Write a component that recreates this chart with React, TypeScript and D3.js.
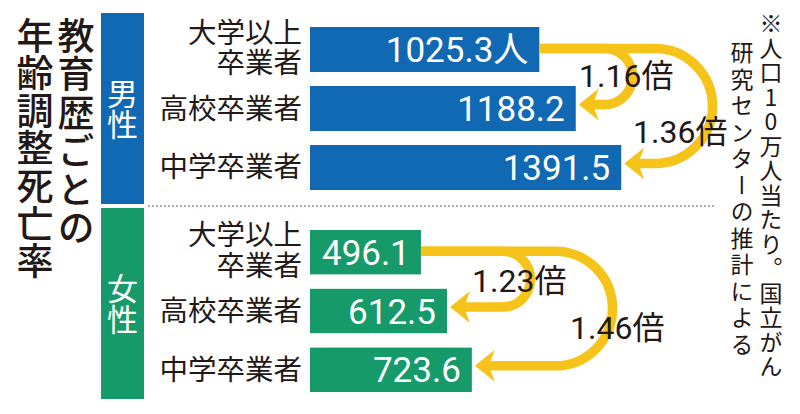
import React from "react";
import * as d3 from "d3";

// data
const categories = [["大学以上", "卒業者"], ["高校卒業者"], ["中学卒業者"]];
const maleValues = [1025.3, 1188.2, 1391.5];
const femaleValues = [496.1, 612.5, 723.6];
const maleLabels = ["1025.3人", "1188.2", "1391.5"];
const femaleLabels = ["496.1", "612.5", "723.6"];
const groupNames = ["男性", "女性"];
const maleRatios = ["1.16倍", "1.36倍"];
const femaleRatios = ["1.23倍", "1.46倍"];
const titleLines = ["教育歴ごとの", "年齢調整死亡率"];
const noteLines = ["※人口10万人当たり。国立がん", "研究センターの推計による"];

const W = 800;
const H = 414;
const BLUE = "#1269b3";
const GREEN = "#179a6a";
const YELLOW = "#f6c31a";
const INK = "#231815";
const JP = "'Noto Sans CJK JP', sans-serif";
const NUM = "Roboto, 'Noto Sans CJK JP', sans-serif";

const x = d3.scaleLinear().domain([0, 1500]).range([310, 645.5]);

const groups = [
  {
    name: groupNames[0],
    color: BLUE,
    values: maleValues,
    labels: maleLabels,
    ratios: maleRatios,
    band: d3.scaleBand<number>().domain([0, 1, 2]).range([27, 190]).paddingInner(0.237),
    badge: [13, 204],
    // arrow layout: right-most reach of the arc, label position
    arrows: [
      { to: 1, reach: 632.5, lx: 579, ly: 75 },
      { to: 2, reach: 712.5, lx: 633, ly: 131 },
    ],
  },
  {
    name: groupNames[1],
    color: GREEN,
    values: femaleValues,
    labels: femaleLabels,
    ratios: femaleRatios,
    band: d3.scaleBand<number>().domain([0, 1, 2]).range([230, 392]).paddingInner(0.245),
    badge: [208, 399],
    arrows: [
      { to: 1, reach: 530.5, lx: 472, ly: 280 },
      { to: 2, reach: 612.5, lx: 570, ly: 327.5 },
    ],
  },
];

function arrowShaft(x0: number, y0: number, x1: number, y1: number, reach: number) {
  const r = (y1 - y0) / 2;
  const cx = reach - r;
  const p = d3.path();
  p.moveTo(x0, y0);
  p.lineTo(cx, y0);
  p.arc(cx, y0 + r, r, -Math.PI / 2, Math.PI / 2);
  p.lineTo(x1 + 12, y1);
  return p.toString();
}

function arrowHead(xt: number, y: number) {
  const p = d3.path();
  p.moveTo(xt, y);
  p.lineTo(xt + 20, y - 16);
  p.lineTo(xt + 14, y);
  p.lineTo(xt + 20, y + 16);
  p.closePath();
  return p.toString();
}

export default function App() {
  return (
    <svg
      width={W}
      height={H}
      viewBox={`0 0 ${W} ${H}`}
      style={{ position: "absolute", left: 0, top: 0, background: "#fff" }}
    >
      {/* title, vertical */}
      {titleLines.map((t, i) => (
        <text
          key={t}
          x={i === 0 ? 76 : 35}
          y={i === 0 ? 17 : 17}
          writingMode="vertical-rl"
          style={{ textOrientation: "upright", letterSpacing: i === 0 ? "1.5px" : "0.6px" } as any}
          fontFamily={JP}
          fontSize={37}
          fontWeight={500}
          fill={INK}
        >
          {t}
        </text>
      ))}

      {/* note, vertical */}
      {noteLines.map((t, i) => (
        <text
          key={t}
          x={i === 0 ? 771 : 742}
          y={i === 0 ? 12 : 41}
          writingMode="vertical-rl"
          style={{ textOrientation: "upright", letterSpacing: i === 0 ? "1.5px" : "3.5px" } as any}
          fontFamily={JP}
          fontSize={23}
          fill={INK}
        >
          {t}
        </text>
      ))}

      {/* separator */}
      <line x1={148} x2={715} y1={206} y2={206} stroke="#555" strokeWidth={1} strokeDasharray="2,2" />

      {groups.map((g) => {
        const y0 = (i: number) => g.band(i)! + g.band.bandwidth() / 2;
        return (
          <g key={g.name}>
            <rect x={101} y={g.badge[0]} width={43} height={g.badge[1] - g.badge[0]} fill={g.color} />
            <text
              x={122.5}
              y={(g.badge[0] + g.badge[1]) / 2}
              writingMode="vertical-rl"
              textAnchor="middle"
              style={{ textOrientation: "upright" } as any}
              fontFamily={JP}
              fontSize={31}
              fill="#fff"
            >
              {g.name}
            </text>

            {categories.map((c, i) => (
              <text key={i} textAnchor="end" fontFamily={JP} fontSize={28.5} fill={INK}>
                {c.map((line, k) => (
                  <tspan
                    key={line}
                    x={302}
                    y={y0(i) + (k - (c.length - 1) / 2) * 30.5 + 10 - (c.length - 1) * 1.5}
                  >
                    {line}
                  </tspan>
                ))}
              </text>
            ))}

            {g.values.map((v, i) => (
              <rect
                key={i}
                x={x(0)}
                y={g.band(i)!}
                width={x(v) - x(0)}
                height={g.band.bandwidth()}
                fill={g.color}
              />
            ))}
            {g.values.map((v, i) => (
              <text
                key={"l" + i}
                x={x(v) - 11}
                y={y0(i) + 12.5}
                textAnchor="end"
                fontFamily={NUM}
                fontSize={35}
                fill="#fff"
              >
                {g.labels[i]}
              </text>
            ))}

            {g.arrows.map((a) => {
              const sy = y0(0) - 1;
              const ty = y0(a.to) - 4;
              const tx = x(g.values[a.to]) + 3;
              return (
                <g key={a.to}>
                  <path
                    d={arrowShaft(x(g.values[0]), sy, tx, ty, a.reach)}
                    fill="none"
                    stroke={YELLOW}
                    strokeWidth={9.5}
                  />
                  <path d={arrowHead(tx, ty)} fill={YELLOW} />
                </g>
              );
            })}
            {g.arrows.map((a, k) => (
              <text
                key={"r" + k}
                x={a.lx}
                y={a.ly + 11.5}
                fontFamily={NUM}
                fontSize={32}
                fill={INK}
              >
                {g.ratios[k]}
              </text>
            ))}
          </g>
        );
      })}
    </svg>
  );
}
